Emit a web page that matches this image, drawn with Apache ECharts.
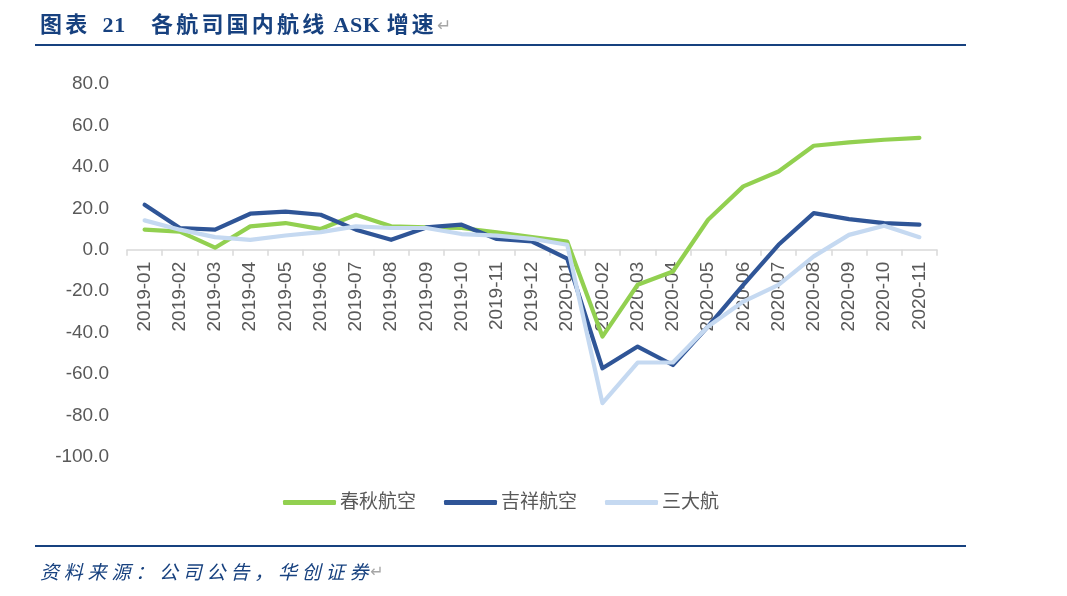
<!DOCTYPE html>
<html><head><meta charset="utf-8">
<script src="https://cdn.jsdelivr.net/npm/echarts@6/dist/echarts.min.js"></script>
<style>html,body{margin:0;padding:0;background:#fff}#c{width:1067px;height:596px}</style>
</head><body><div id="c"></div>
<script>
const categories = ['2019-01','2019-02','2019-03','2019-04','2019-05','2019-06','2019-07','2019-08','2019-09','2019-10','2019-11','2019-12','2020-01','2020-02','2020-03','2020-04','2020-05','2020-06','2020-07','2020-08','2020-09','2020-10','2020-11'];
const chunqiu = [9.7,8.8,1.0,11.3,12.9,10.0,16.9,11.3,10.8,10.5,8.4,6.1,4.0,-41.9,-16.9,-10.5,14.5,30.6,37.8,50.2,51.8,53.1,54.0];
const juneyao = [21.7,10.5,9.7,17.4,18.4,16.9,9.7,4.8,10.8,12.1,5.2,4.0,-4.3,-57.2,-46.7,-55.6,-37.0,-16.9,2.4,17.7,14.8,12.9,12.1];
const bigThree = [14.2,9.7,6.1,4.8,6.9,8.5,11.3,10.5,10.5,7.6,6.8,5.3,2.4,-74.0,-54.4,-54.4,-37.0,-25.0,-16.9,-3.2,7.2,11.6,6.1];
const seriesNames = ['春秋航空','吉祥航空','三大航'];
const yTickMin = -100, yTickMax = 80, yTickStep = 20;
const titleText = '图表  21　各航司国内航线 ASK 增速';
const sourceText = '资料来源：公司公告，华创证券';
const colors = ['#92D050','#2F5597','#C5D9F1'];

// lay out text char by char with letter spacing (real text elements)
const ctx = document.createElement('canvas').getContext('2d');
function spacedText(str, x0, yc, font, cjkSpacing, latinSpacing, fill) {
  ctx.font = font;
  const els = [];
  let x = x0;
  for (const ch of str) {
    els.push({type:'text', x, y:yc, style:{text:ch, font, fill, verticalAlign:'middle', align:'left'}});
    const isLatin = ch.charCodeAt(0) < 0x2000;
    x += ctx.measureText(ch).width + (isLatin ? latinSpacing : cjkSpacing);
  }
  return {els, end:x};
}
const tFont = 'bold 22px "Liberation Serif", "Noto Sans CJK SC"';
const t = spacedText(titleText, 40, 26, tFont, 3.2, 0.6, '#17417F');
const sFont = 'italic 19px "Noto Sans CJK SC"';
const s = spacedText(sourceText, 40, 572, sFont, 4.8, 0, '#17417F');
const graphics = [
  ...t.els,
  {type:'text', x:t.end, y:27, style:{text:'↵', font:'17px "DejaVu Sans"', fill:'#A6A6A6', verticalAlign:'middle'}},
  ...s.els,
  {type:'text', x:s.end-3, y:573, style:{text:'↵', font:'16px "DejaVu Sans"', fill:'#A6A6A6', verticalAlign:'middle'}},
  {type:'rect', shape:{x:35,y:44,width:931,height:2}, style:{fill:'#17417F'}},
  {type:'rect', shape:{x:35,y:545,width:931,height:2}, style:{fill:'#17417F'}}
];

const chart = echarts.init(document.getElementById('c'), null, {renderer:'canvas'});
const mk = (name, data, color) => ({
  name, type:'line', data, symbol:'none', smooth:false,
  lineStyle:{width:4.2, color, cap:'round', join:'round'}, itemStyle:{color}
});
const gridTop = 84, gridBottomPx = 457;
const zeroPx = gridTop + (gridBottomPx - gridTop) * (yTickMax - 0) / (yTickMax - yTickMin);
chart.setOption({
  animation:false,
  backgroundColor:'#fff',
  graphic:graphics,
  legend:{
    data:seriesNames, top:488, left:278,
    icon:'roundRect', itemWidth:53, itemHeight:5, itemGap:28,
    textStyle:{fontFamily:'Liberation Sans, Noto Sans CJK SC', fontSize:19, color:'#595959', padding:[0,0,0,-1]}
  },
  grid:{left:127, right:130, top:gridTop, bottom:596-gridBottomPx, containLabel:false},
  xAxis:{
    type:'category', data:categories, boundaryGap:true,
    offset: zeroPx - gridBottomPx,
    axisLine:{onZero:false, lineStyle:{color:'#D9D9D9', width:1.5}},
    axisTick:{show:true, length:6, lineStyle:{color:'#D9D9D9', width:1.5}},
    axisLabel:{rotate:90, interval:0, fontFamily:'Liberation Sans', fontSize:19, color:'#595959', margin:12},
    splitLine:{show:false}
  },
  yAxis:{
    type:'value', min:yTickMin, max:yTickMax, interval:yTickStep,
    axisLine:{show:false}, axisTick:{show:false}, splitLine:{show:false},
    axisLabel:{formatter:v=>v.toFixed(1), fontFamily:'Liberation Sans', fontSize:19, color:'#595959', margin:18}
  },
  series:[mk(seriesNames[0], chunqiu, colors[0]), mk(seriesNames[1], juneyao, colors[1]), mk(seriesNames[2], bigThree, colors[2])]
});
</script></body></html>
